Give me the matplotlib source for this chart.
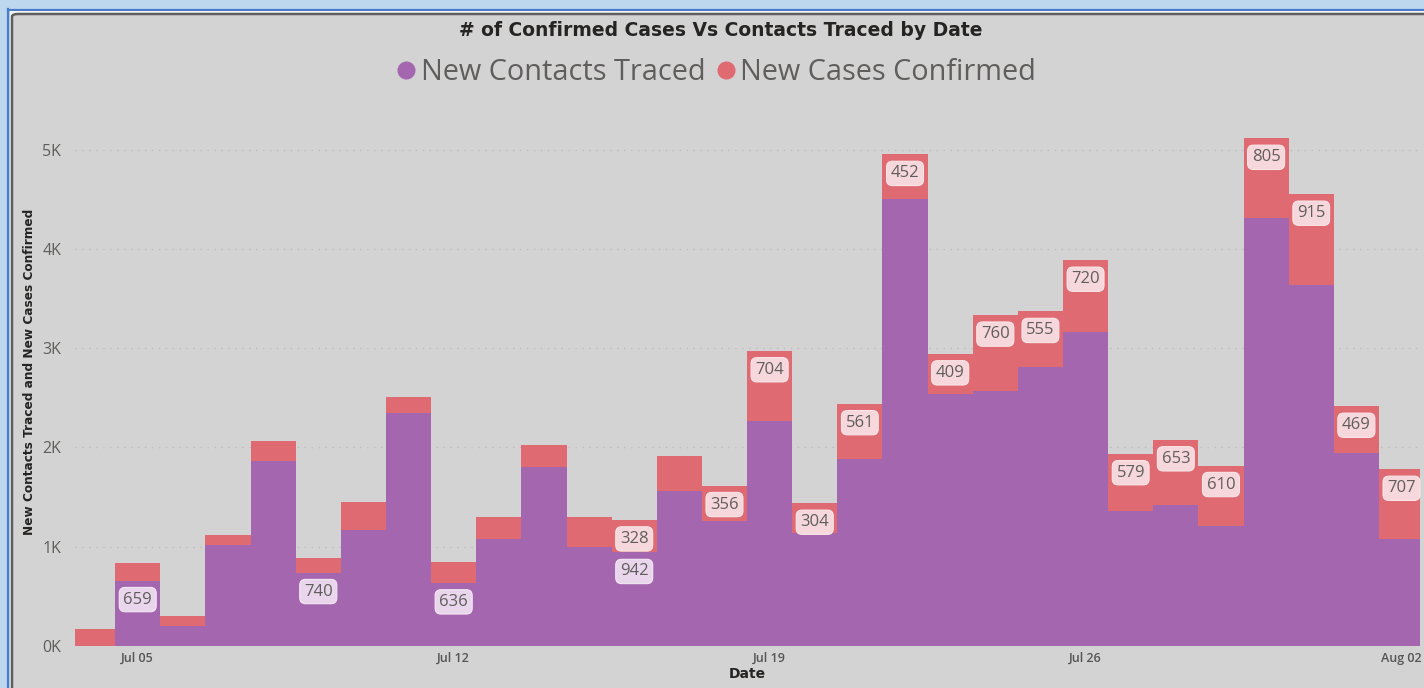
import matplotlib
matplotlib.use("Agg")
import matplotlib.pyplot as plt
from matplotlib.patches import Rectangle, FancyBboxPatch
from matplotlib.lines import Line2D

# ---------------- data ----------------
dates = ["Jul 04", "Jul 05", "Jul 06", "Jul 07", "Jul 08", "Jul 09", "Jul 10", "Jul 11",
         "Jul 12", "Jul 13", "Jul 14", "Jul 15", "Jul 16", "Jul 17", "Jul 18", "Jul 19",
         "Jul 20", "Jul 21", "Jul 22", "Jul 23", "Jul 24", "Jul 25", "Jul 26", "Jul 27",
         "Jul 28", "Jul 29", "Jul 30", "Jul 31", "Aug 01", "Aug 02"]
contacts = [0, 659, 202, 1014, 1863, 740, 1172, 2347, 636, 1078, 1805, 1000, 942, 1563, 1260,
            2270, 1134, 1880, 4500, 2534, 2573, 2815, 3166, 1358, 1424, 1208, 4309, 3636, 1946, 1073]
cases = [176, 175, 105, 106, 202, 149, 283, 162, 213, 219, 215, 297, 328, 350, 356,
         704, 304, 561, 452, 409, 760, 555, 720, 579, 653, 610, 805, 915, 469, 707]
contact_label_days = ["Jul 05", "Jul 09", "Jul 12", "Jul 16"]
case_label_days = ["Jul 16", "Jul 18", "Jul 19", "Jul 20", "Jul 21", "Jul 22", "Jul 23", "Jul 24",
                   "Jul 25", "Jul 26", "Jul 27", "Jul 28", "Jul 29", "Jul 30", "Jul 31",
                   "Aug 01", "Aug 02"]
tick_days = ["Jul 05", "Jul 12", "Jul 19", "Jul 26", "Aug 02"]
yticks = [0, 1000, 2000, 3000, 4000, 5000]
ytick_labels = ["0K", "1K", "2K", "3K", "4K", "5K"]

PURPLE = "#A566B0"
RED = "#DF6A72"
BG = "#D3D3D3"

W, H = 1424, 688
fig = plt.figure(figsize=(W / 100, H / 100), dpi=100)
fig.patch.set_facecolor("#BDD7EE")

def fx(px):
    return px / W

def fy(py):
    return 1 - py / H

# frame: blue line, then dark gray rounded panel (drawn behind the axes)
fig.add_artist(Line2D([fx(8), fx(8)], [fy(9), fy(700)], color="#4A7BC8", lw=1.6,
                      transform=fig.transFigure, zorder=-10))
fig.add_artist(Line2D([fx(8), fx(1430)], [fy(9.5), fy(9.5)], color="#4A7BC8", lw=1.6,
                      transform=fig.transFigure, zorder=-10))
fig.add_artist(Rectangle((fx(9.5), fy(700)), fx(1430), fy(11) - fy(700), transform=fig.transFigure,
                         facecolor="#F4F4F4", edgecolor="none", zorder=-9))
fig.add_artist(FancyBboxPatch((fx(12), fy(700)), fx(1430), fy(14) - fy(700),
                              boxstyle="round,pad=0,rounding_size=0.004", transform=fig.transFigure,
                              facecolor=BG, edgecolor="#5E5E5E", lw=1.8, zorder=-8))

# axes
ax = fig.add_axes([fx(75), fy(646), fx(1420) - fx(75), fy(100) - fy(646)])
ax.set_facecolor("none")
x = list(range(len(dates)))
ax.bar(x, contacts, width=1.0, color=PURPLE, linewidth=0, zorder=2)
ax.bar(x, cases, width=1.0, bottom=contacts, color=RED, linewidth=0, zorder=2)
ax.set_xlim(-0.39, 29.41)
ax.set_ylim(0, 5500)

ax.set_yticks(yticks)
ax.set_yticklabels(ytick_labels, fontsize=11.5, color="#605E5C", family="Open Sans")
ax.yaxis.grid(True, color="#BDBDBD", linestyle=(0, (1, 4)), lw=1.0, zorder=0)
ax.set_axisbelow(True)
ax.tick_params(axis="y", length=0, pad=10)
ticks_x = [dates.index(d) for d in tick_days]
ax.set_xticks(ticks_x)
ax.set_xticklabels(tick_days, fontsize=9, color="#555555", family="Open Sans", fontweight="semibold")
ax.tick_params(axis="x", length=0, pad=4)
for s in ax.spines.values():
    s.set_visible(False)

ax.set_xlabel("Date", fontsize=10, fontweight="bold", color="#252423", labelpad=2)
fig.text(fx(30), fy(372), "New Contacts Traced and New Cases Confirmed", rotation=90,
         ha="center", va="center", fontsize=8.7, fontweight="bold", color="#252423",
         family="DejaVu Sans")

# data labels
for d in contact_label_days:
    i = dates.index(d)
    ax.annotate(str(contacts[i]), (i, contacts[i]), xytext=(0, -19), textcoords="offset pixels",
                ha="center", va="center", fontsize=12, color="#605E5C", family="Open Sans", zorder=5,
                bbox=dict(boxstyle="round,pad=0.25,rounding_size=0.35", fc="#E9D6EC", ec="#F2E8F3", lw=0.8))
for d in case_label_days:
    i = dates.index(d)
    top = contacts[i] + cases[i]
    ax.annotate(str(cases[i]), (i, top), xytext=(0, -19), textcoords="offset pixels",
                ha="center", va="center", fontsize=12, color="#605E5C", family="Open Sans", zorder=5,
                bbox=dict(boxstyle="round,pad=0.25,rounding_size=0.35", fc="#F6D7DB", ec="#F8E6E8", lw=0.8))

# title and legend
fig.text(fx(721), fy(30), "# of Confirmed Cases Vs Contacts Traced by Date", ha="center", va="center",
         fontsize=13.5, fontweight="bold", color="#252423", family="DejaVu Sans")
handles = [Line2D([], [], marker="o", linestyle="none", markersize=12, color=PURPLE),
           Line2D([], [], marker="o", linestyle="none", markersize=12, color=RED)]
fig.legend(handles, ["New Contacts Traced", "New Cases Confirmed"], loc="center",
           bbox_to_anchor=(fx(714), fy(73)), ncol=2, frameon=False, handletextpad=0.0,
           columnspacing=0.2, handlelength=1.0,
           prop={"family": "Open Sans", "size": 20.8}, labelcolor="#605E5C")

fig.savefig("out.png", dpi=100, facecolor=fig.get_facecolor())
